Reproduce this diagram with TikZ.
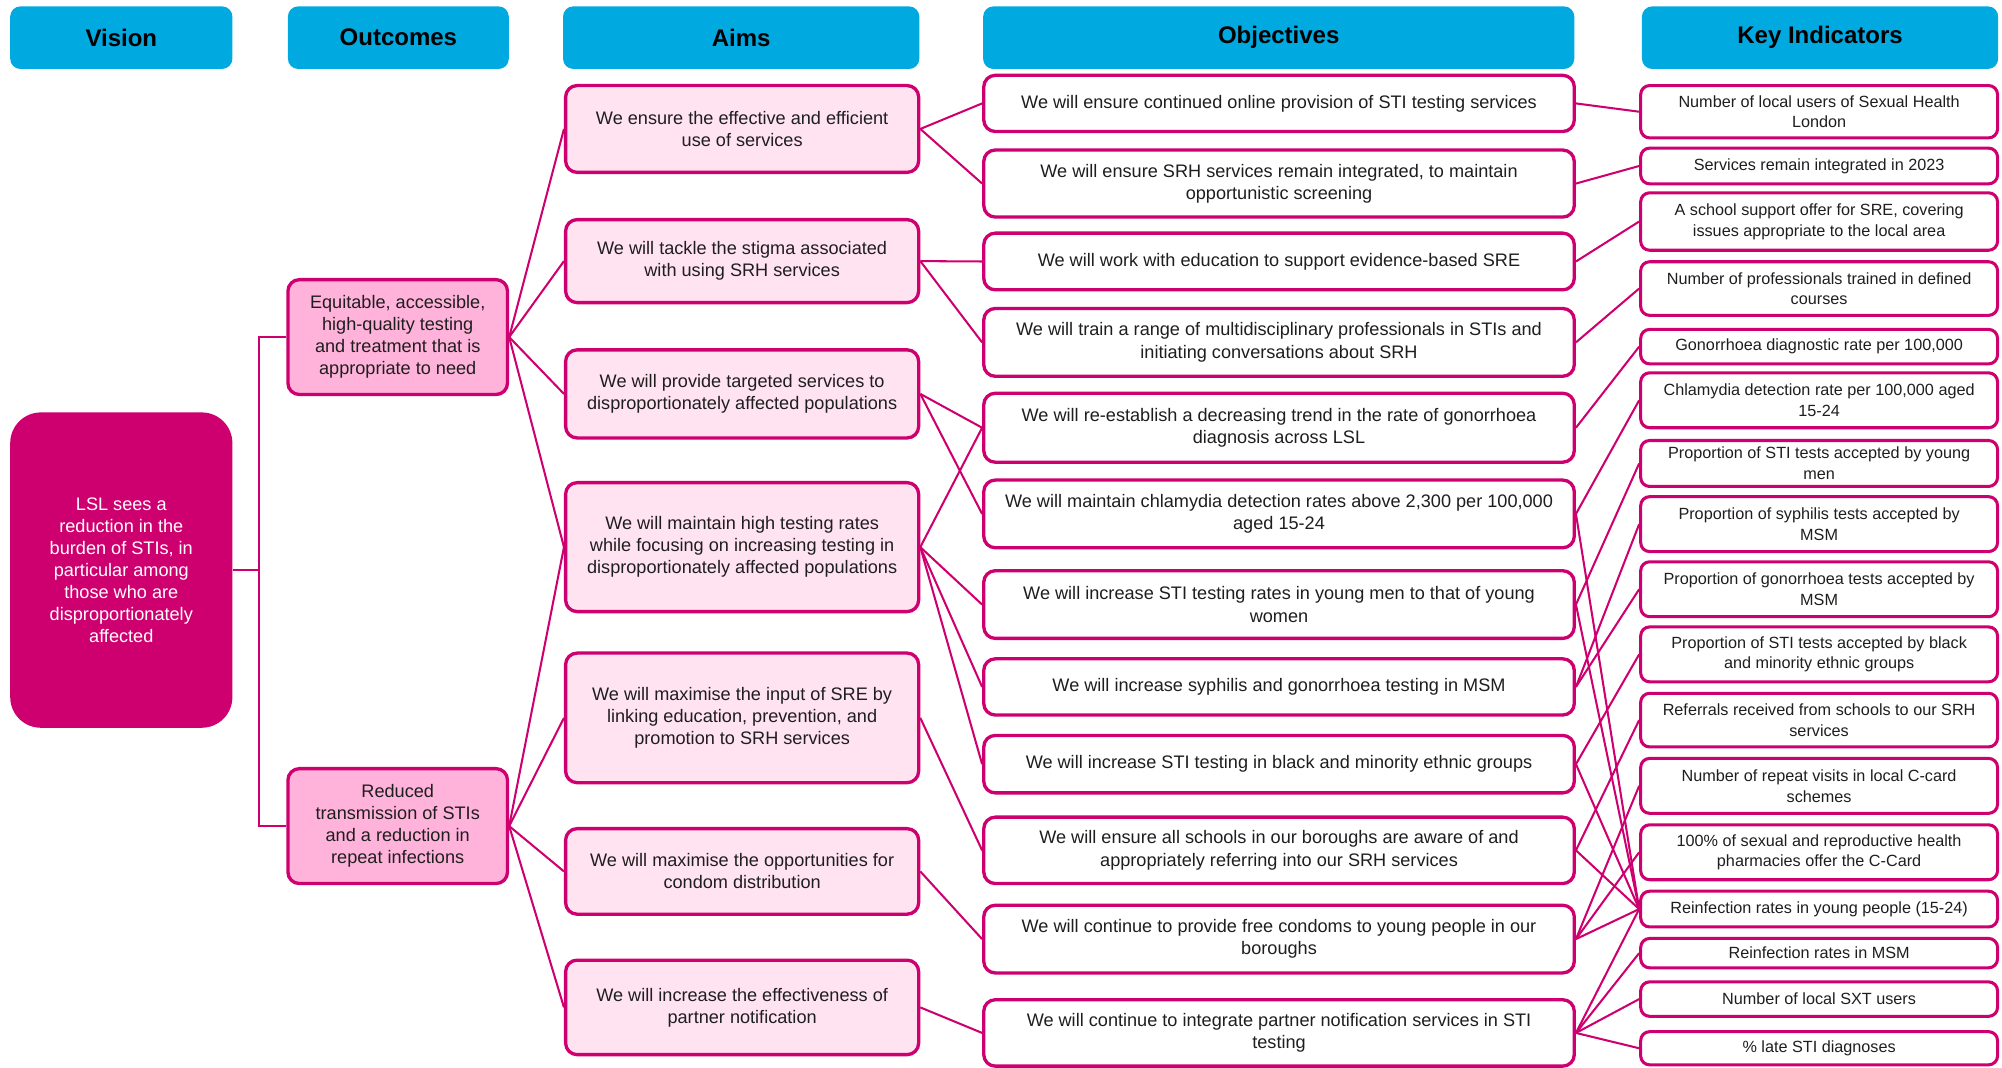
\documentclass[tikz,border=0pt]{standalone}
\usepackage{fontspec}
\setmainfont{Liberation Sans}
\pgfdeclarelayer{background}
\pgfsetlayers{background,main}

\definecolor{hdr}{RGB}{0,169,224}
\definecolor{mag}{RGB}{206,0,112}
\definecolor{outfill}{RGB}{255,178,218}
\definecolor{aimfill}{RGB}{255,227,241}
\definecolor{ink}{RGB}{30,30,30}

\tikzset{
  box/.style={draw=mag, line width=2.6pt, rounded corners=9pt, align=center,
              inner sep=2pt, text=ink},
  hdrbox/.style={fill=hdr, rounded corners=8pt, inner sep=2pt,
                 font=\fontsize{18.8}{22}\selectfont\bfseries, text=black},
  visionbox/.style={fill=mag, rounded corners=24pt, text=white, align=center,
                    inner sep=2pt, font=\fontsize{14.2}{17.3}\selectfont},
  outbox/.style={box, fill=outfill, font=\fontsize{14.2}{17.3}\selectfont},
  aimbox/.style={box, fill=aimfill, font=\fontsize{14.2}{17.2}\selectfont},
  objbox/.style={box, fill=white, font=\fontsize{14.2}{17.5}\selectfont},
  kibox/.style={box, fill=white, rounded corners=7pt, line width=2.4pt,
                font=\fontsize{12.7}{16.2}\selectfont},
  link/.style={draw=mag, line width=1.6pt},
}

% \placebox{style}{name}{left}{right}{top}{bottom}{text}
\newcommand\placebox[7]{%
  \pgfmathsetmacro\pbw{#4-#3}\pgfmathsetmacro\pbh{#6-#5}%
  \pgfmathsetmacro\pbx{(#3+#4)/2}\pgfmathsetmacro\pby{(#5+#6)/2}%
  \node[#1, minimum width=\pbw pt, minimum height=\pbh pt] (#2) at (\pbx,\pby) {#7};}

\begin{document}
\begin{tikzpicture}[x=1pt,y=-1pt]
\useasboundingbox (0,0) rectangle (1568,836);

% column headers
\placebox{hdrbox}{hV}{8}{182}{5}{54}{Vision}
\placebox{hdrbox}{hO}{225.5}{398.5}{5}{54}{Outcomes}
\placebox{hdrbox}{hA}{441}{720}{5}{54}{Aims}
\placebox{hdrbox}{hB}{770}{1233}{5}{54}{Objectives}
\placebox{hdrbox}{hK}{1286}{1565}{5}{54}{Key Indicators}

% vision
\placebox{visionbox}{V}{8}{182}{323}{570}{LSL sees a\\reduction in the\\burden of STIs, in\\particular among\\those who are\\disproportionately\\affected}

% outcomes
\placebox{outbox}{O1}{225.5}{397.5}{219}{309}{Equitable, accessible,\\high-quality testing\\and treatment that is\\appropriate to need}
\placebox{outbox}{O2}{225.5}{397.5}{602}{692}{Reduced\\transmission of STIs\\and a reduction in\\repeat infections}

% aims
\placebox{aimbox}{A1}{443}{719.5}{67}{135}{We ensure the effective and efficient\\use of services}
\placebox{aimbox}{A2}{443}{719.5}{172}{237}{We will tackle the stigma associated\\with using SRH services}
\placebox{aimbox}{A3}{443}{719.5}{274}{343}{We will provide targeted services to\\disproportionately affected populations}
\placebox{aimbox}{A4}{443}{719.5}{378}{479}{We will maintain high testing rates\\while focusing on increasing testing in\\disproportionately affected populations}
\placebox{aimbox}{A5}{443}{719.5}{511.5}{613}{We will maximise the input of SRE by\\linking education, prevention, and\\promotion to SRH services}
\placebox{aimbox}{A6}{443}{719.5}{649}{716}{We will maximise the opportunities for\\condom distribution}
\placebox{aimbox}{A7}{443}{719.5}{752}{826}{We will increase the effectiveness of\\partner notification}

% objectives
\placebox{objbox}{B1}{770.5}{1233}{59}{103}{We will ensure continued online provision of STI testing services}
\placebox{objbox}{B2}{770.5}{1233}{117.5}{170}{We will ensure SRH services remain integrated, to maintain\\opportunistic screening}
\placebox{objbox}{B3}{770.5}{1233}{182.6}{227}{We will work with education to support evidence-based SRE}
\placebox{objbox}{B4}{770.5}{1233}{241.6}{294.7}{We will train a range of multidisciplinary professionals in STIs and\\initiating conversations about SRH}
\placebox{objbox}{B5}{770.5}{1233}{308}{362}{We will re-establish a decreasing trend in the rate of gonorrhoea\\diagnosis across LSL}
\placebox{objbox}{B6}{770.5}{1233}{376}{429}{We will maintain chlamydia detection rates above 2,300 per 100,000\\aged 15-24}
\placebox{objbox}{B7}{770.5}{1233}{447}{500}{We will increase STI testing rates in young men to that of young\\women}
\placebox{objbox}{B8}{770.5}{1233}{516}{560}{We will increase syphilis and gonorrhoea testing in MSM}
\placebox{objbox}{B9}{770.5}{1233}{576}{621}{We will increase STI testing in black and minority ethnic groups}
\placebox{objbox}{B10}{770.5}{1233}{640}{692}{We will ensure all schools in our boroughs are aware of and\\appropriately referring into our SRH services}
\placebox{objbox}{B11}{770.5}{1233}{709}{762}{We will continue to provide free condoms to young people in our\\boroughs}
\placebox{objbox}{B12}{770.5}{1233}{783}{835}{We will continue to integrate partner notification services in STI\\testing}

% key indicators
\placebox{kibox}{K1}{1285}{1564.5}{67}{108}{Number of local users of Sexual Health\\London}
\placebox{kibox}{K2}{1285}{1564.5}{116}{144}{Services remain integrated in 2023}
\placebox{kibox}{K3}{1285}{1564.5}{151}{196}{A school support offer for SRE, covering\\issues appropriate to the local area}
\placebox{kibox}{K4}{1285}{1564.5}{205}{247}{Number of professionals trained in defined\\courses}
\placebox{kibox}{K5}{1285}{1564.5}{258}{285}{Gonorrhoea diagnostic rate per 100,000}
\placebox{kibox}{K6}{1285}{1564.5}{292}{335}{Chlamydia detection rate per 100,000 aged\\15-24}
\placebox{kibox}{K7}{1285}{1564.5}{345}{381}{Proportion of STI tests accepted by young\\men}
\placebox{kibox}{K8}{1285}{1564.5}{389}{432}{Proportion of syphilis tests accepted by\\MSM}
\placebox{kibox}{K9}{1285}{1564.5}{440}{483}{Proportion of gonorrhoea tests accepted by\\MSM}
\placebox{kibox}{K10}{1285}{1564.5}{491}{534}{Proportion of STI tests accepted by black\\and minority ethnic groups}
\placebox{kibox}{K11}{1285}{1564.5}{543}{585}{Referrals received from schools to our SRH\\services}
\placebox{kibox}{K12}{1285}{1564.5}{594}{637}{Number of repeat visits in local C-card\\schemes}
\placebox{kibox}{K13}{1285}{1564.5}{646}{689}{100\% of sexual and reproductive health\\pharmacies offer the C-Card}
\placebox{kibox}{K14}{1285}{1564.5}{698}{726}{Reinfection rates in young people (15-24)}
\placebox{kibox}{K15}{1285}{1564.5}{735}{758}{Reinfection rates in MSM}
\placebox{kibox}{K16}{1285}{1564.5}{769}{796}{Number of local SXT users}
\placebox{kibox}{K17}{1285}{1564.5}{808}{834}{\% late STI diagnoses}

% connectors
\begin{pgfonlayer}{background}
  \coordinate (trunk) at (203,446.5);
  \draw[link] (V.east) -- (trunk);
  \draw[link] (O1.west) -| (trunk);
  \draw[link] (O2.west) -| (trunk);

  \foreach \a in {A1,A2,A3,A4} \draw[link] (O1.east) -- (\a.west);
  \foreach \a in {A4,A5,A6,A7} \draw[link] (O2.east) -- (\a.west);

  \foreach \s/\t in {A1/B1, A1/B2, A2/B3, A2/B4, A3/B5, A3/B6,
                     A4/B5, A4/B7, A4/B8, A4/B9, A5/B10, A6/B11, A7/B12}
    \draw[link] (\s.east) -- (\t.west);

  \foreach \s/\t in {B1/K1, B2/K2, B3/K3, B4/K4, B5/K5, B6/K6, B6/K14,
                     B7/K7, B7/K14, B8/K8, B8/K9, B9/K10, B9/K14,
                     B10/K11, B10/K14, B11/K12, B11/K13, B11/K14,
                     B12/K14, B12/K15, B12/K16, B12/K17}
    \draw[link] (\s.east) -- (\t.west);
\end{pgfonlayer}
\end{tikzpicture}
\end{document}
